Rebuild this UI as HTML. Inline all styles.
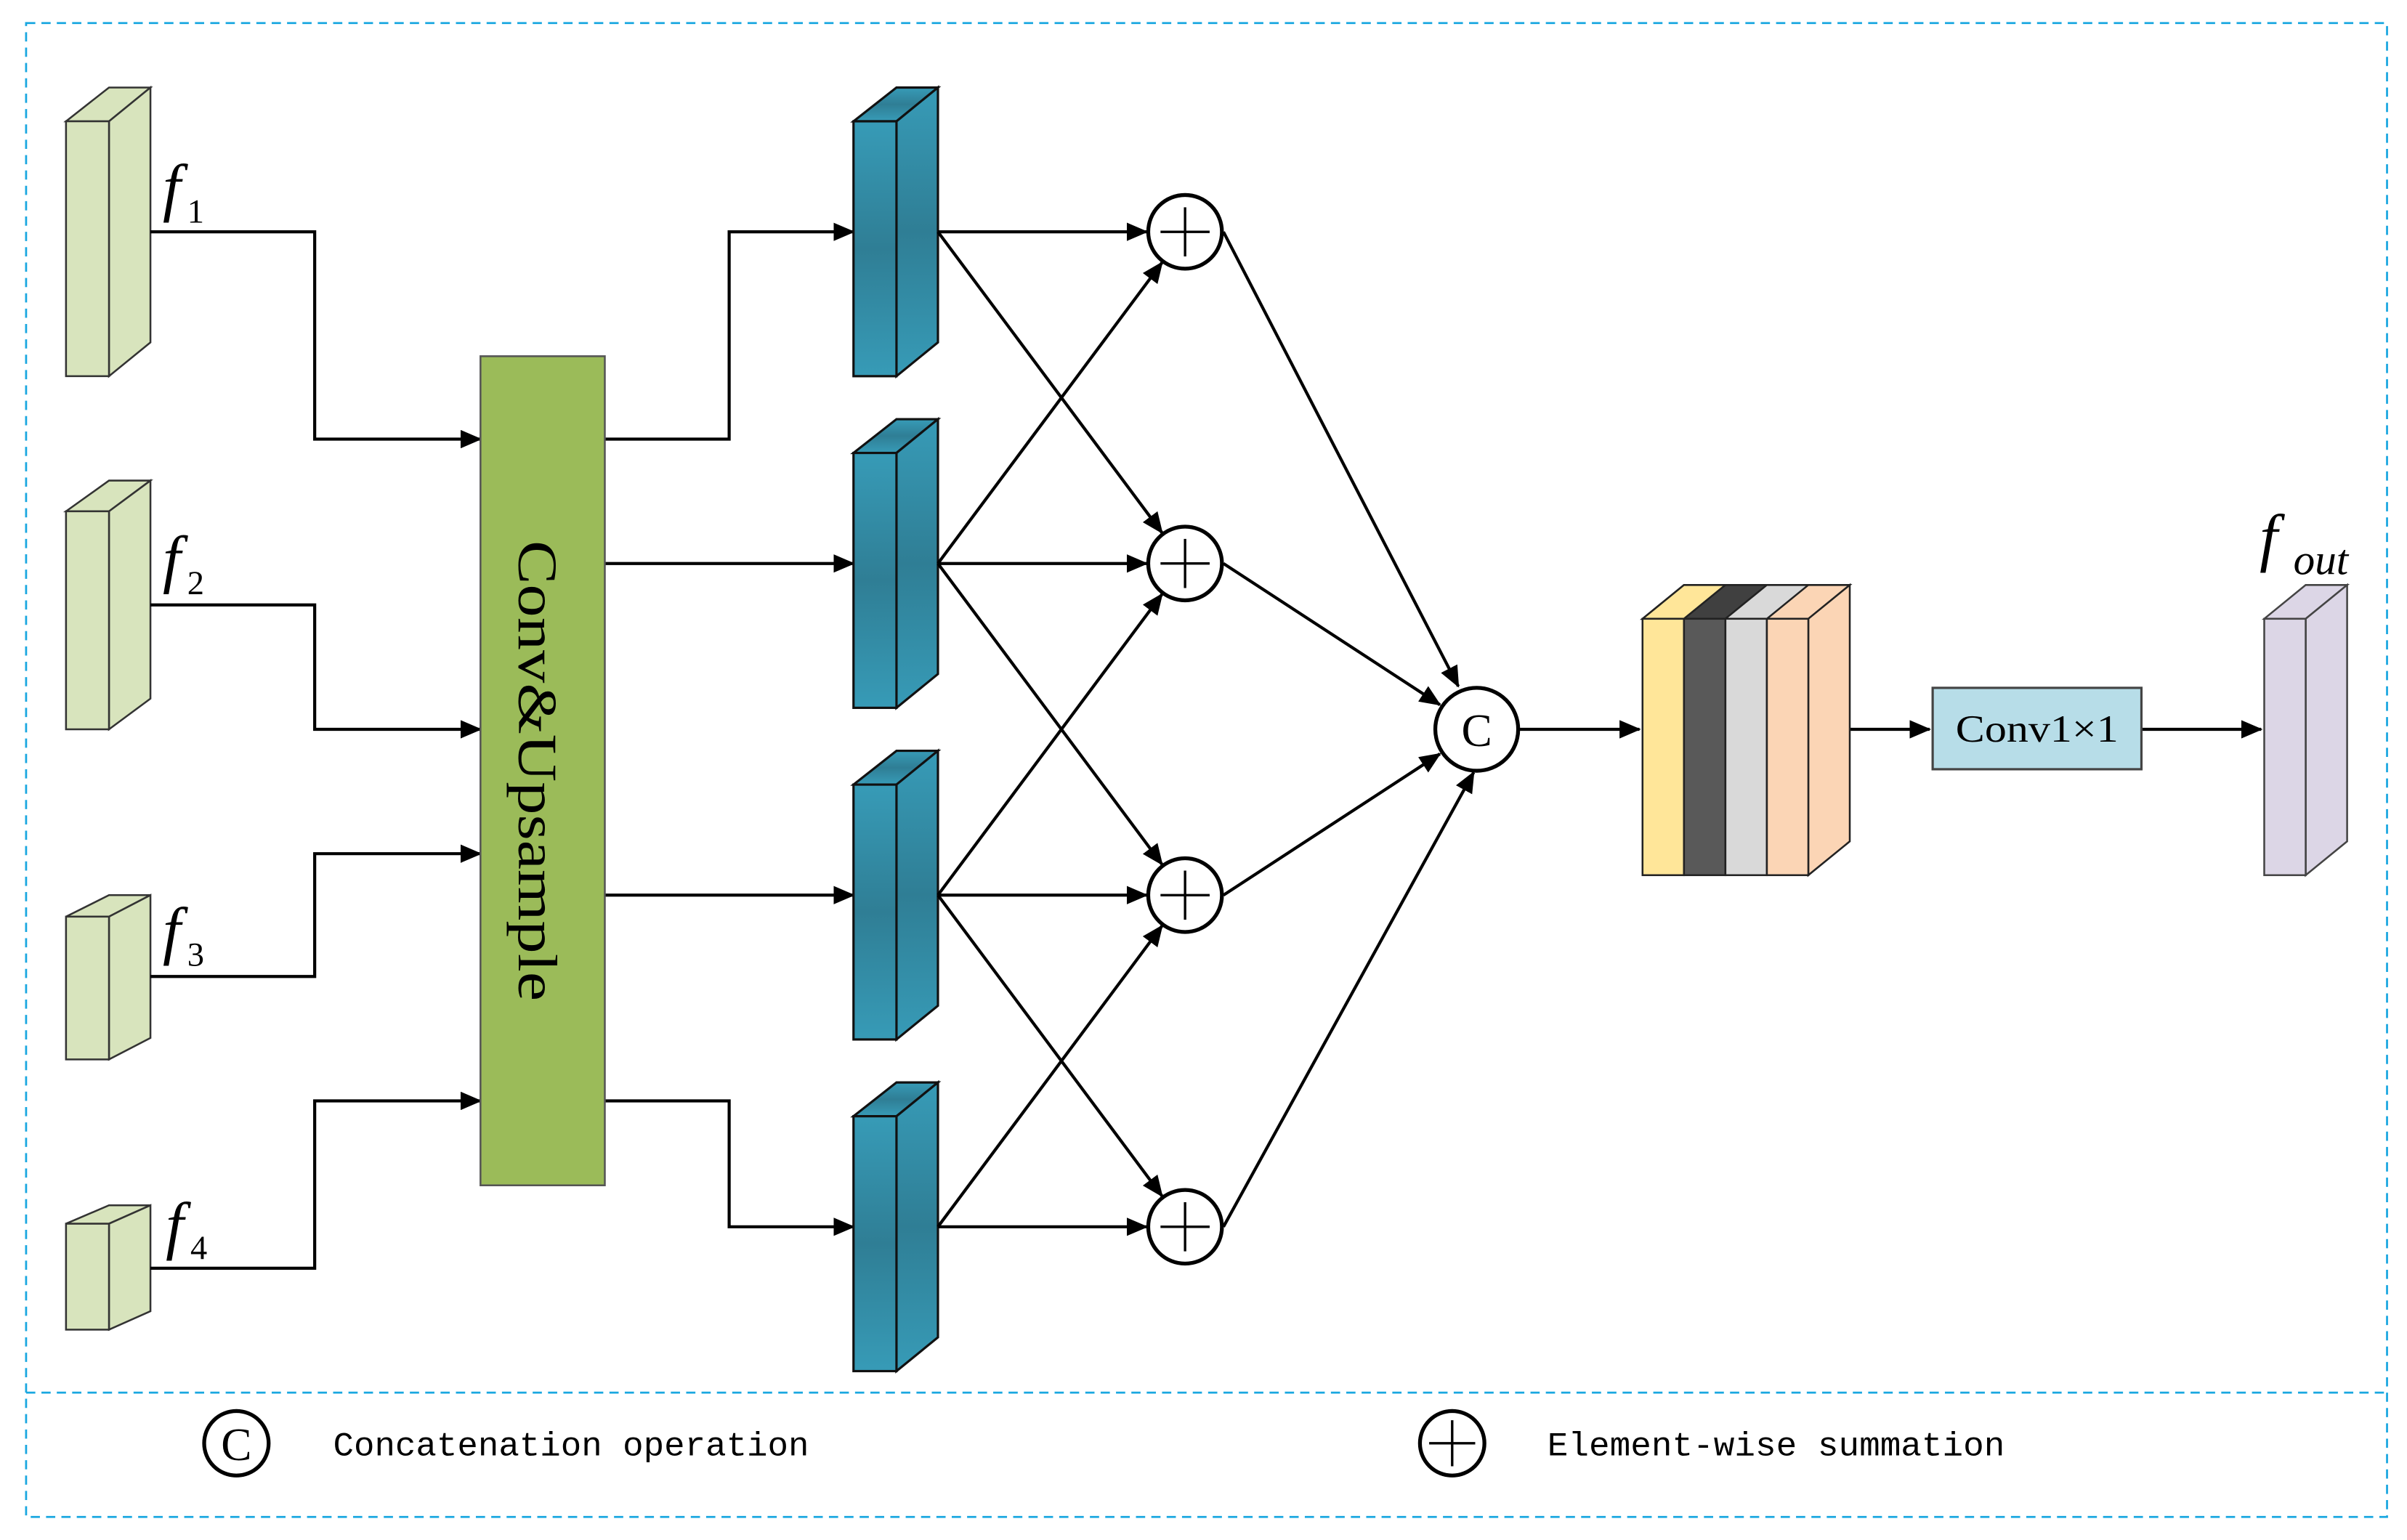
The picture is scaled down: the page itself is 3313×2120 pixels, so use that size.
<!DOCTYPE html>
<html><head><style>html,body{margin:0;padding:0;background:#fff}svg{display:block}</style></head>
<body>
<svg width="3313" height="2120" viewBox="0 0 1568 1003" preserveAspectRatio="none" xmlns="http://www.w3.org/2000/svg">
<defs>
<marker id="a" markerWidth="14" markerHeight="12" refX="13" refY="6" orient="auto" markerUnits="userSpaceOnUse"><path d="M0,0 L14,6 L0,12 Z" fill="#000"/></marker>
<linearGradient id="bl" x1="0" y1="0" x2="0" y2="1"><stop offset="0" stop-color="#379bb7"/><stop offset="0.5" stop-color="#2f7e95"/><stop offset="1" stop-color="#379bb7"/></linearGradient>
</defs>
<rect x="17" y="15" width="1538" height="973" fill="none" stroke="#1aa7e0" stroke-width="1.3" stroke-dasharray="6,4"/>
<line x1="17" y1="907" x2="1555" y2="907" stroke="#1aa7e0" stroke-width="1.3" stroke-dasharray="6,4"/>

<g stroke="#333" stroke-width="1.2" fill="#d8e4bd">
<path d="M43,79 L71,57 L98,57 L71,79Z"/><path d="M71,79 L98,57 L98,223 L71,245Z"/><rect x="43" y="79" width="28" height="166"/>
<path d="M43,333 L71,313 L98,313 L71,333Z"/><path d="M71,333 L98,313 L98,455 L71,475Z"/><rect x="43" y="333" width="28" height="142"/>
<path d="M43,597 L71,583 L98,583 L71,597Z"/><path d="M71,597 L98,583 L98,676 L71,690Z"/><rect x="43" y="597" width="28" height="93"/>
<path d="M43,797 L71,785 L98,785 L71,797Z"/><path d="M71,797 L98,785 L98,854 L71,866Z"/><rect x="43" y="797" width="28" height="69"/>
</g>
<g font-family="Liberation Serif, serif" font-style="italic" font-size="42">
<text x="106" y="136">f</text><text x="106" y="378">f</text><text x="106" y="620">f</text><text x="108" y="812">f</text>
</g>
<g font-family="Liberation Serif, serif" font-size="22">
<text x="122" y="145">1</text><text x="122" y="387">2</text><text x="122" y="629">3</text><text x="124" y="820">4</text>
</g>

<g stroke="#000" stroke-width="2" fill="none" marker-end="url(#a)">
<path d="M98,151 H205 V286 H313"/>
<path d="M98,394 H205 V475 H313"/>
<path d="M98,636 H205 V556 H313"/>
<path d="M98,826 H205 V717 H313"/>
<path d="M394,286 H475 V151 H556"/>
<path d="M394,367 H556"/>
<path d="M394,583 H556"/>
<path d="M394,717 H475 V799 H556"/>
</g>
<rect x="313" y="232" width="81" height="540" fill="#9bbb59" stroke="#555" stroke-width="1.2"/>
<text transform="translate(338,352) rotate(90)" font-family="Liberation Serif, serif" font-size="36" textLength="300" lengthAdjust="spacingAndGlyphs">Conv&amp;Upsample</text>

<g stroke="#111" stroke-width="1.5" fill="url(#bl)">
<path d="M556,79 L584,57 L611,57 L584,79Z"/><path d="M584,79 L611,57 L611,223 L584,245Z"/><rect x="556" y="79" width="28" height="166"/>
<path d="M556,295 L584,273 L611,273 L584,295Z"/><path d="M584,295 L611,273 L611,439 L584,461Z"/><rect x="556" y="295" width="28" height="166"/>
<path d="M556,511 L584,489 L611,489 L584,511Z"/><path d="M584,511 L611,489 L611,655 L584,677Z"/><rect x="556" y="511" width="28" height="166"/>
<path d="M556,727 L584,705 L611,705 L584,727Z"/><path d="M584,727 L611,705 L611,871 L584,893Z"/><rect x="556" y="727" width="28" height="166"/>
</g>

<g stroke="#000" stroke-width="2" fill="none" marker-end="url(#a)">
<line x1="611" y1="151" x2="747" y2="151"/><line x1="611" y1="151" x2="757" y2="347"/>
<line x1="611" y1="367" x2="747" y2="367"/><line x1="611" y1="367" x2="757" y2="171"/><line x1="611" y1="367" x2="757" y2="563"/>
<line x1="611" y1="583" x2="747" y2="583"/><line x1="611" y1="583" x2="757" y2="387"/><line x1="611" y1="583" x2="757" y2="779"/>
<line x1="611" y1="799" x2="747" y2="799"/><line x1="611" y1="799" x2="757" y2="603"/>
<line x1="797" y1="151" x2="950" y2="447"/>
<line x1="797" y1="367" x2="938" y2="459"/>
<line x1="797" y1="583" x2="938" y2="491"/>
<line x1="797" y1="799" x2="960" y2="503"/>
<line x1="989" y1="475" x2="1068" y2="475"/>
<line x1="1205" y1="475" x2="1257" y2="475"/>
<line x1="1395" y1="475" x2="1473" y2="475"/>
</g>
<g stroke="#000" stroke-width="2.5" fill="#fff">
<circle cx="772" cy="151" r="24"/><circle cx="772" cy="367" r="24"/><circle cx="772" cy="583" r="24"/><circle cx="772" cy="799" r="24"/>
<circle cx="962" cy="475" r="27"/>
</g>
<g stroke="#000" stroke-width="1.6">
<path d="M756,151 H788 M772,135 V167"/><path d="M756,367 H788 M772,351 V383"/><path d="M756,583 H788 M772,567 V599"/><path d="M756,799 H788 M772,783 V815"/>
</g>
<text x="962" y="486" text-anchor="middle" font-family="Liberation Serif, serif" font-size="30">C</text>

<g stroke="#222" stroke-width="1.2">
<path d="M1070,403 L1097,381 L1205,381 L1178,403Z" fill="#fbd5b5"/>
<path d="M1070,403 L1097,381 L1124,381 L1097,403Z" fill="#ffe699"/>
<path d="M1097,403 L1124,381 L1151,381 L1124,403Z" fill="#404040"/>
<path d="M1124,403 L1151,381 L1178,381 L1151,403Z" fill="#d9d9d9"/>
<path d="M1178,403 L1205,381 L1205,548 L1178,570Z" fill="#fbd5b5"/>
<rect x="1070" y="403" width="27" height="167" fill="#ffe699"/>
<rect x="1097" y="403" width="27" height="167" fill="#595959"/>
<rect x="1124" y="403" width="27" height="167" fill="#d9d9d9"/>
<rect x="1151" y="403" width="27" height="167" fill="#fbd5b5"/>
</g>
<rect x="1259" y="448" width="136" height="53" fill="#b7dde8" stroke="#444" stroke-width="1.5"/>
<text x="1327" y="483" text-anchor="middle" font-family="Liberation Serif, serif" font-size="25" textLength="106" lengthAdjust="spacingAndGlyphs">Conv1×1</text>

<g stroke="#444" stroke-width="1.2" fill="#dcd6e6">
<path d="M1475,403 L1502,381 L1529,381 L1502,403Z"/><path d="M1502,403 L1529,381 L1529,548 L1502,570Z"/><rect x="1475" y="403" width="27" height="167"/>
</g>
<text x="1472" y="364" font-family="Liberation Serif, serif" font-style="italic" font-size="42">f</text>
<text x="1494" y="374" font-family="Liberation Serif, serif" font-style="italic" font-size="28">out</text>

<circle cx="154" cy="940" r="21" fill="#fff" stroke="#000" stroke-width="2.5"/>
<text x="154" y="951" text-anchor="middle" font-family="Liberation Serif, serif" font-size="30">C</text>
<text x="217" y="948" font-family="Liberation Mono, monospace" font-size="22" textLength="310" lengthAdjust="spacingAndGlyphs">Concatenation operation</text>
<circle cx="946" cy="940" r="21" fill="#fff" stroke="#000" stroke-width="2.5"/>
<path d="M931,940 H961 M946,925 V955" stroke="#000" stroke-width="1.6"/>
<text x="1008" y="948" font-family="Liberation Mono, monospace" font-size="22" textLength="298" lengthAdjust="spacingAndGlyphs">Element-wise summation</text>
</svg>
</body></html>
